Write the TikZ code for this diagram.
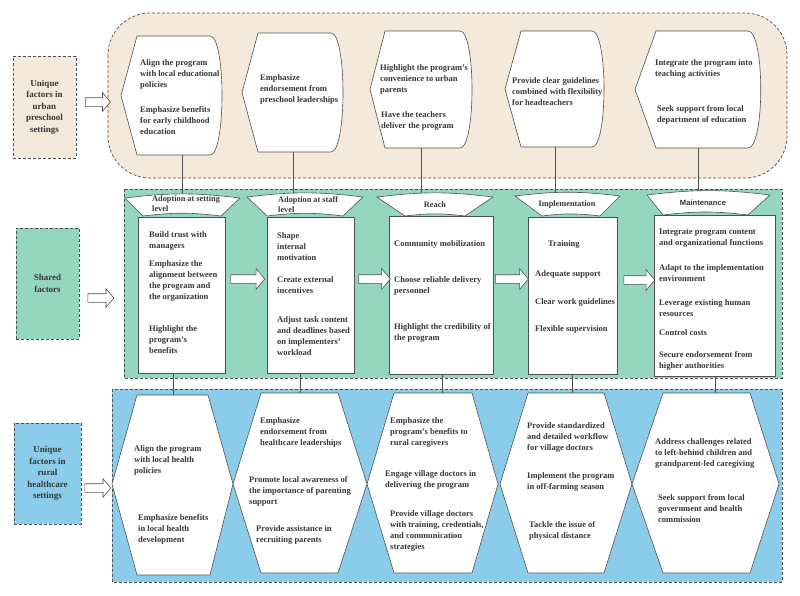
\documentclass[tikz,border=0pt]{standalone}
\usepackage{fontspec}
\setmainfont{Liberation Serif}
\newfontfamily\headsans{Liberation Sans}
\usepackage{tikz}
\usetikzlibrary{arrows.meta,positioning,shapes.arrows}
\definecolor{urbanfill}{RGB}{244,233,218}
\definecolor{sharedfill}{RGB}{148,214,190}
\definecolor{ruralfill}{RGB}{138,204,234}
\definecolor{inkgray}{RGB}{55,55,55}
\definecolor{edgegray}{RGB}{80,80,80}

\begin{document}
\begin{tikzpicture}[x=1pt, y=-1pt,
  font=\fontsize{8.5}{11}\selectfont\bfseries,
  band/.style={draw=edgegray, line width=0.7pt, dash pattern=on 3pt off 2pt},
  lab/.style={band, align=center, inner sep=0pt, text=inkgray,
              font=\fontsize{9}{11.5}\selectfont\bfseries},
  shp/.style={draw=edgegray, line width=0.6pt, fill=white},
  box/.style={shp, inner sep=0pt},
  txt/.style={anchor=north west, align=left, inner sep=0pt, text=inkgray},
  head/.style={align=left, inner sep=0pt, text=inkgray,
               font=\fontsize{8.3}{10}\selectfont\bfseries},
  link/.style={draw=edgegray, line width=0.6pt},
  hollow/.style={single arrow, draw=edgegray, fill=white, line width=0.6pt,
                 inner xsep=0pt, inner ysep=4pt, minimum width=0pt,
                 single arrow tip angle=100}]
\useasboundingbox (0,0) rectangle (800,595);
% the three dashed bands
\draw[band, fill=urbanfill, rounded corners=42pt] (108,13) rectangle (787,178);
\draw[band, fill=sharedfill] (124,189) rectangle (782,378);
\draw[band, fill=ruralfill] (112,389) rectangle (782,582);
% row labels and their arrows
\node[lab, fill=urbanfill, minimum width=63pt, minimum height=102pt] (lu) at (44.5,107)
  {Unique\\factors in\\urban\\preschool\\settings};
\node[lab, fill=sharedfill, minimum width=63pt, minimum height=111pt] (ls) at (47.5,283.5)
  {Shared\\factors};
\node[lab, fill=ruralfill, minimum width=67pt, minimum height=101pt] (lr) at (47.5,473.5)
  {Unique\\factors in\\rural\\healthcare\\settings};
\node[hollow, minimum height=25pt, single arrow head extend=5pt] (au) at (96,102) {};
\node[hollow, minimum height=26pt, single arrow head extend=5pt] (as) at (99,298) {};
\node[hollow, minimum height=26pt, single arrow head extend=5pt] (ar) at (96,488) {};
% connector points
\coordinate (u1) at (182,155); \coordinate (h1) at (182,198);
\coordinate (u2) at (293,152); \coordinate (h2) at (293,197);
\coordinate (u3) at (421,148); \coordinate (h3) at (421,196);
\coordinate (u4) at (555,147); \coordinate (h4) at (555,196);
\coordinate (u5) at (698,148); \coordinate (h5) at (698,195);
\coordinate (r1) at (173,395); \coordinate (r2) at (300,393);
\coordinate (r3) at (442,393); \coordinate (r4) at (572,393);
\coordinate (r5) at (715,393);
\draw[link] (u1) -- (h1);
\draw[link] (u2) -- (h2);
\draw[link] (u3) -- (h3);
\draw[link] (u4) -- (h4);
\draw[link] (u5) -- (h5);
% urban shapes (pointed left, curved right)
\draw[shp] (121,95.5) -- (137,36) -- (210,36) .. controls (226,36) and (226,155) .. (210,155) -- (137,155) -- cycle;
\draw[shp] (242,92.5) -- (258,33) -- (331,33) .. controls (347,33) and (347,152) .. (331,152) -- (258,152) -- cycle;
\draw[shp] (370,89.5) -- (385,31) -- (460,31) .. controls (476,31) and (476,148) .. (460,148) -- (385,148) -- cycle;
\draw[shp] (505,89) -- (521,31) -- (592,31) .. controls (608,31) and (608,147) .. (592,147) -- (521,147) -- cycle;
\draw[shp] (635,89.5) -- (656,31) -- (748,31) .. controls (765,31) and (765,148) .. (748,148) -- (656,148) -- cycle;
% shared boxes
\node[box, minimum width=87pt, minimum height=156pt] (m1) at (181.5,295) {};
\node[box, minimum width=87pt, minimum height=156pt] (m2) at (310.5,295) {};
\node[box, minimum width=104pt, minimum height=158pt] (m3) at (441,295) {};
\node[box, minimum width=89pt, minimum height=157pt] (m4) at (572.5,295.5) {};
\node[box, minimum width=121pt, minimum height=161pt] (m5) at (714.5,295.5) {};
% stage headers
\draw[shp] (125,198) to[bend left=7] (240,198) -- (221,216) to[bend right=7] (143,216) -- cycle;
\draw[shp] (247,197) to[bend left=7] (363,197) -- (343,216) to[bend right=7] (267,216) -- cycle;
\draw[shp] (377,197) to[bend left=7] (493,197) -- (465,216) to[bend right=7] (405,216) -- cycle;
\draw[shp] (515,196) to[bend left=7] (620,196) -- (600,216) to[bend right=7] (542,216) -- cycle;
\draw[shp] (647,195) to[bend left=7] (770,195) -- (748,215) to[bend right=7] (663,215) -- cycle;
\node[head, anchor=north west] (hd1) at (152,196) {Adoption at setting\\level};
\node[head, anchor=north west] (hd2) at (278,196) {Adoption at staff\\level};
\node[head] (hd3) at (435,205) {Reach};
\node[head] (hd4) at (567,204) {Implementation};
\node[head, font=\headsans\fontsize{7.6}{9}\selectfont\bfseries] (hd5) at (703,203) {Maintenance};
% arrows between stages
\node[hollow, minimum height=34pt, single arrow head extend=6pt] (a12) at (246,279) {};
\node[hollow, minimum height=32pt, single arrow head extend=6pt] (a23) at (372.5,279) {};
\node[hollow, minimum height=33pt, single arrow head extend=6pt] (a34) at (510,279) {};
\node[hollow, minimum height=31pt, single arrow head extend=6pt] (a45) at (637.5,280) {};
% links down to the rural hexagons
\draw[link] (m1.south -| r1) -- (r1);
\draw[link] (m2.south -| r2) -- (r2);
\draw[link] (m3.south -| r3) -- (r3);
\draw[link] (m4.south -| r4) -- (r4);
\draw[link] (m5.south -| r5) -- (r5);
% rural hexagons
\draw[shp] (112,484) -- (137,395) -- (208,395) -- (233,484) -- (210,575) -- (137,575) -- cycle;
\draw[shp] (233,484) -- (261,393) -- (338,393) -- (367,484) -- (338,573) -- (261,573) -- cycle;
\draw[shp] (367,484) -- (394,393) -- (472,393) -- (498,484) -- (472,573) -- (394,573) -- cycle;
\draw[shp] (500,484) -- (528,393) -- (604,393) -- (632,484) -- (604,573) -- (528,573) -- cycle;
\draw[shp] (632,484) -- (663,393) -- (750,393) -- (779,484) -- (750,573) -- (663,573) -- cycle;
% urban texts
\node[txt] (u1a) at (140,59) {Align the program\\with local educational\\policies};
\node[txt] (u1b) at (140,106) {Emphasize benefits\\for early childhood\\education};
\node[txt] (u2a) at (260,74) {Emphasize\\endorsement from\\preschool leaderships};
\node[txt] (u3a) at (380,64) {Highlight the program's\\convenience to urban\\parents};
\node[txt] (u3b) at (381,111) {Have the teachers\\deliver the program};
\node[txt] (u4a) at (512,77) {Provide clear guidelines\\combined with flexibility\\for headteachers};
\node[txt] (u5a) at (655,59) {Integrate the program into\\teaching activities};
\node[txt] (u5b) at (657,105) {Seek support from local\\department of education};
% shared texts
\node[txt] (m1a) at (149,231) {Build trust with\\managers};
\node[txt] (m1b) at (149,260) {Emphasize the\\alignment between\\the program and\\the organization};
\node[txt] (m1c) at (149,325) {Highlight the\\program's\\benefits};
\node[txt] (m2a) at (277,232) {Shape\\internal\\motivation};
\node[txt] (m2b) at (277,276) {Create external\\incentives};
\node[txt] (m2c) at (277,316) {Adjust task content\\and deadlines based\\on implementers'\\workload};
\node[txt] (m3a) at (394,240) {Community mobilization};
\node[txt] (m3b) at (394,276) {Choose reliable delivery\\personnel};
\node[txt] (m3c) at (394,323) {Highlight the credibility of\\the program};
\node[txt] (m4a) at (548,240) {Training};
\node[txt] (m4b) at (535,270) {Adequate support};
\node[txt] (m4c) at (535,298) {Clear work guidelines};
\node[txt] (m4d) at (535,325) {Flexible supervision};
\node[txt] (m5a) at (659,229) {Integrate program content\\and organizational functions};
\node[txt] (m5b) at (659,264) {Adapt to the implementation\\environment};
\node[txt] (m5c) at (659,299) {Leverage existing human\\resources};
\node[txt] (m5d) at (659,329) {Control costs};
\node[txt] (m5e) at (659,351) {Secure endorsement from\\higher authorities};
% rural texts
\node[txt] (r1a) at (134,445) {Align the program\\with local health\\policies};
\node[txt] (r1b) at (138,514) {Emphasize benefits\\in local health\\development};
\node[txt] (r2a) at (260,417) {Emphasize\\endorsement from\\healthcare leaderships};
\node[txt] (r2b) at (249,476) {Promote local awareness of\\the importance of parenting\\support};
\node[txt] (r2c) at (256,525) {Provide assistance in\\recruiting parents};
\node[txt] (r3a) at (390,417) {Emphasize the\\program's benefits to\\rural caregivers};
\node[txt] (r3b) at (385,470) {Engage village doctors in\\delivering the program};
\node[txt] (r3c) at (390,510) {Provide village doctors\\with training, credentials,\\and communication\\strategies};
\node[txt] (r4a) at (527,422) {Provide standardized\\and detailed workflow\\for village doctors};
\node[txt] (r4b) at (527,472) {Implement the program\\in off-farming season};
\node[txt] (r4c) at (529,521) {Tackle the issue of\\physical distance};
\node[txt] (r5a) at (655,438) {Address challenges related\\to left-behind children and\\grandparent-led caregiving};
\node[txt] (r5b) at (658,494) {Seek support from local\\government and health\\commission};
\end{tikzpicture}
\end{document}
